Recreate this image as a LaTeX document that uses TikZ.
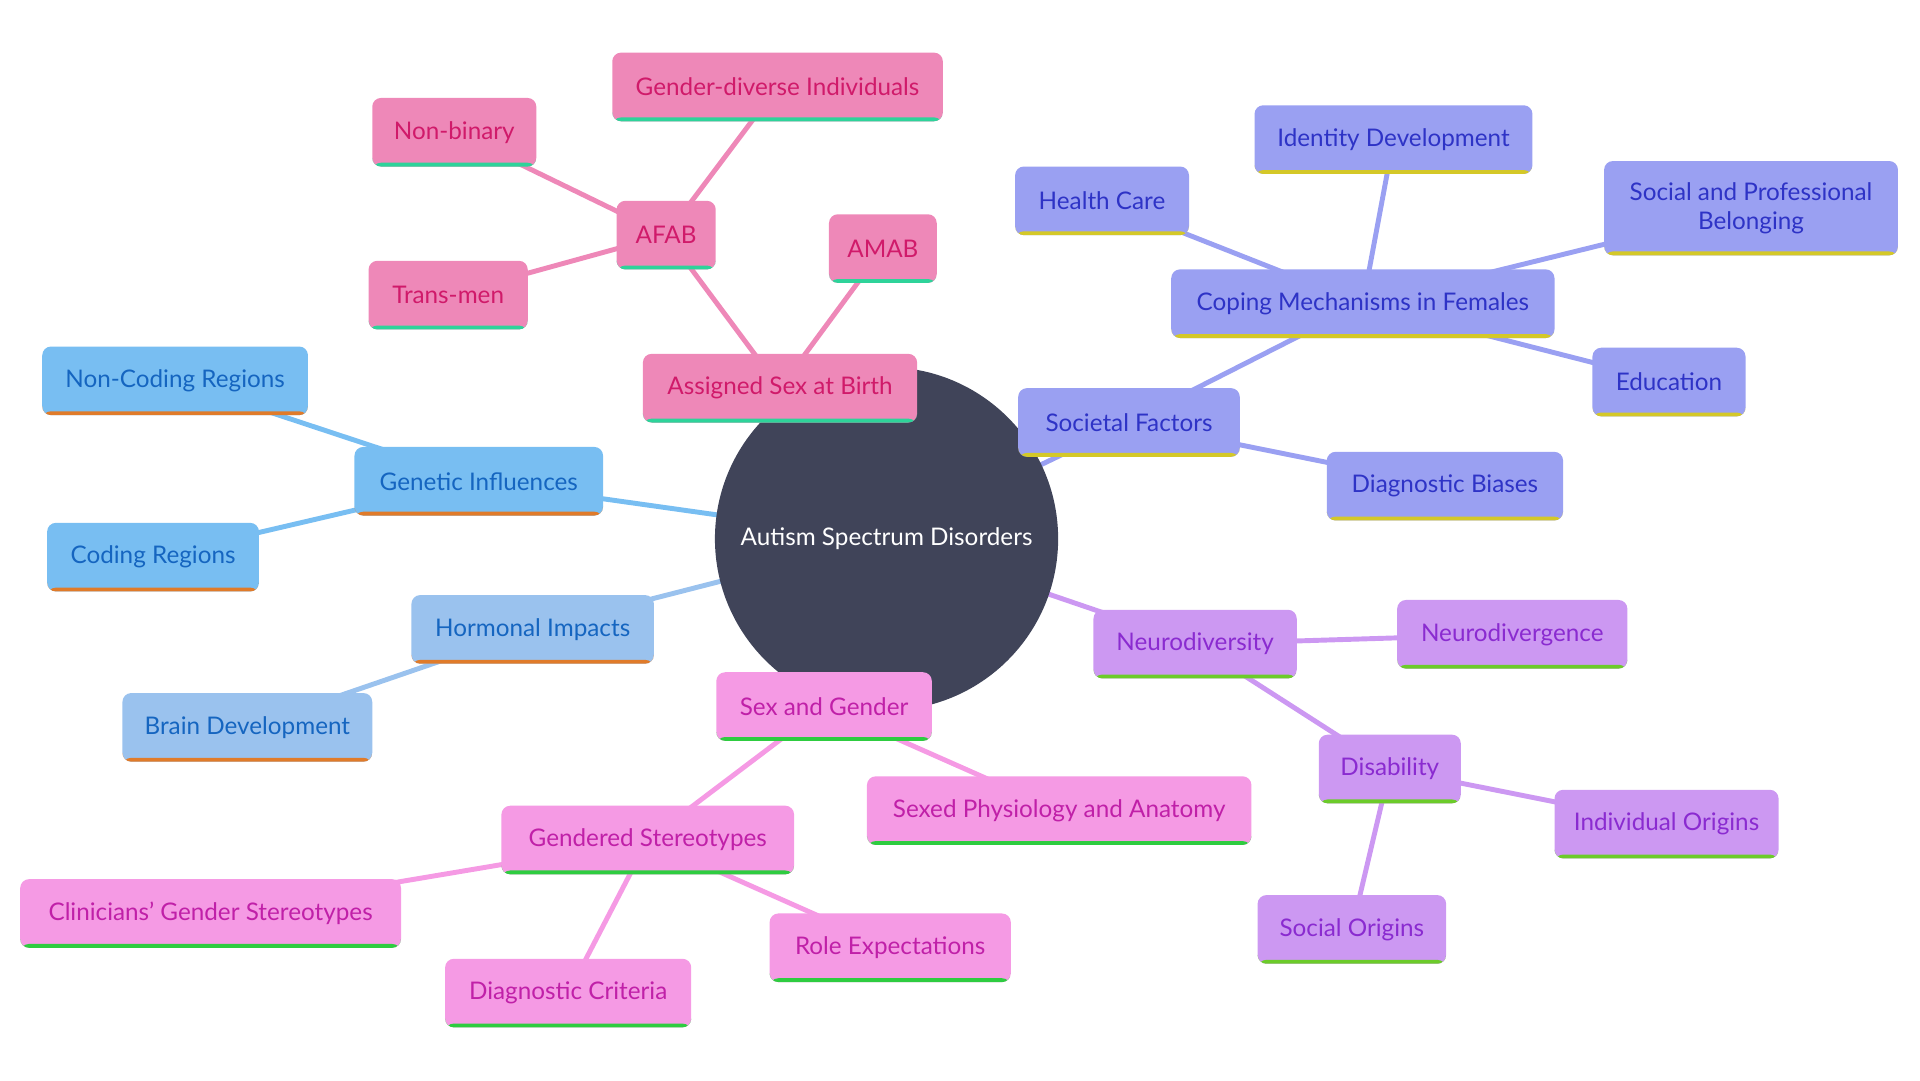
\documentclass[tikz,border=0pt]{standalone}
\usepackage{fontspec}
\setmainfont{Lato}
\usetikzlibrary{backgrounds}
\definecolor{hub}{HTML}{404459}
\definecolor{pkF}{HTML}{EE88B8}\definecolor{pkT}{HTML}{D01A6A}\definecolor{pkL}{HTML}{2ED39A}
\definecolor{blF}{HTML}{78BEF2}\definecolor{blT}{HTML}{1565C0}\definecolor{blL}{HTML}{E07B2A}
\definecolor{lbF}{HTML}{9AC2EE}
\definecolor{pwF}{HTML}{9AA0F2}\definecolor{pwT}{HTML}{2E33C6}\definecolor{pwL}{HTML}{D4C828}
\definecolor{puF}{HTML}{CC98F2}\definecolor{puT}{HTML}{8A2BD0}\definecolor{puL}{HTML}{6CCB2A}
\definecolor{mgF}{HTML}{F59AE4}\definecolor{mgT}{HTML}{C020A8}\definecolor{mgL}{HTML}{2ECC40}
\tikzset{
  box/.style n args={3}{rounded corners=2.5pt, fill=#1, text=#2, minimum height=0.686cm,
    inner sep=0pt, align=center, font=\fontsize{6.9}{8.3}\selectfont,
    path picture={\fill[#3] ([yshift=1.1pt]path picture bounding box.south west) rectangle (path picture bounding box.south east);}},
  link/.style={line width=1.4pt, draw=#1}
}
\begin{document}
\begin{tikzpicture}[x=0.012245cm, y=-0.012245cm]
  \useasboundingbox (0,0) rectangle (1568,882);
  \node[circle, fill=hub, text=white, minimum size=3.43cm, font=\fontsize{6.9}{8.3}\selectfont] (asd) at (724,440) {Autism Spectrum Disorders};

  % assigned sex at birth
  \foreach \n/\x/\y/\w/\t in {asb/637/317/224/Assigned Sex at Birth, afab/544/192/81/AFAB, amab/721/203/88/AMAB,
      gdi/635/71/270/Gender-diverse Individuals, nb/371/108/134/Non-binary, tm/366/241/130/Trans-men}
    \node[box={pkF}{pkT}{pkL}, minimum width=\w*0.012245cm] (\n) at (\x,\y) {\t};

  % genetic and hormonal
  \foreach \n/\x/\y/\w/\t in {gen/391/393/203/Genetic Influences, nc/143/311/217/Non-Coding Regions, cod/125/455/173/Coding Regions}
    \node[box={blF}{blT}{blL}, minimum width=\w*0.012245cm] (\n) at (\x,\y) {\t};
  \foreach \n/\x/\y/\w/\t in {horm/435/514/198/Hormonal Impacts, brain/202/594/204/Brain Development}
    \node[box={lbF}{blT}{blL}, minimum width=\w*0.012245cm] (\n) at (\x,\y) {\t};

  % societal factors
  \foreach \n/\x/\y/\w/\t in {soc/922/345/181/Societal Factors, cope/1113/248/313/Coping Mechanisms in Females,
      health/900/164/142/Health Care, ident/1138/114/227/Identity Development, edu/1363/312/125/Education,
      diag/1180/397/193/Diagnostic Biases}
    \node[box={pwF}{pwT}{pwL}, minimum width=\w*0.012245cm] (\n) at (\x,\y) {\t};
  \node[box={pwF}{pwT}{pwL}, minimum width=240*0.012245cm, minimum height=77*0.012245cm] (spb) at (1430,170) {Social and Professional\\Belonging};

  % neurodiversity
  \foreach \n/\x/\y/\w/\t in {neuro/976/526/166/Neurodiversity, nd/1235/518/188/Neurodivergence, dis/1135/628/116/Disability,
      ind/1361/673/183/Individual Origins, so/1104/759/154/Social Origins}
    \node[box={puF}{puT}{puL}, minimum width=\w*0.012245cm] (\n) at (\x,\y) {\t};

  % sex and gender
  \foreach \n/\x/\y/\w/\t in {sg/673/577/176/Sex and Gender, sexed/865/662/314/Sexed Physiology and Anatomy,
      gs/529/686/239/Gendered Stereotypes, clin/172/746/311/Clinicians' Gender Stereotypes,
      dc/464/811/201/Diagnostic Criteria, role/727/774/197/Role Expectations}
    \node[box={mgF}{mgT}{mgL}, minimum width=\w*0.012245cm] (\n) at (\x,\y) {\t};

  \begin{scope}[on background layer]
    \foreach \a/\b in {asd/asb, asb/afab, asb/amab, afab/gdi, afab/nb, afab/tm}
      \draw[link=pkF] (\a.center) -- (\b.center);
    \foreach \a/\b in {asd/gen, gen/nc, gen/cod}
      \draw[link=blF] (\a.center) -- (\b.center);
    \foreach \a/\b in {asd/horm, horm/brain}
      \draw[link=lbF] (\a.center) -- (\b.center);
    \foreach \a/\b in {asd/soc, soc/cope, cope/health, cope/ident, cope/spb, cope/edu, soc/diag}
      \draw[link=pwF] (\a.center) -- (\b.center);
    \foreach \a/\b in {asd/neuro, neuro/nd, neuro/dis, dis/ind, dis/so}
      \draw[link=puF] (\a.center) -- (\b.center);
    \foreach \a/\b in {asd/sg, sg/sexed, sg/gs, gs/clin, gs/dc, gs/role}
      \draw[link=mgF] (\a.center) -- (\b.center);
  \end{scope}
\end{tikzpicture}
\end{document}
